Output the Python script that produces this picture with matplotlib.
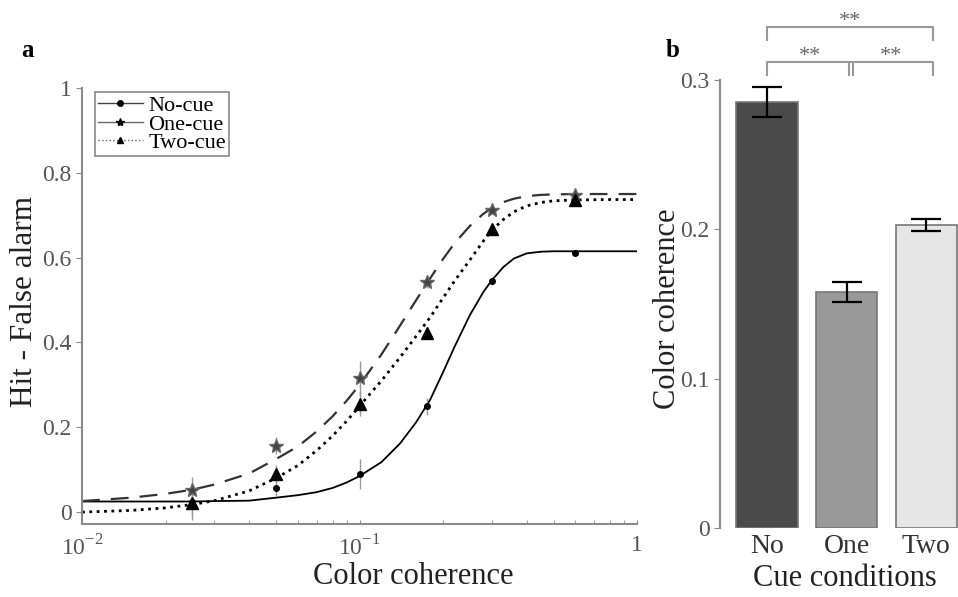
import matplotlib
matplotlib.use("Agg")
import matplotlib.pyplot as plt
from matplotlib.lines import Line2D
import numpy as np

plt.rcParams["font.family"] = ["Liberation Serif", "DejaVu Serif"]
plt.rcParams["mathtext.fontset"] = "custom"
plt.rcParams["mathtext.rm"] = "Liberation Serif"

# panel a: measured points
coherence = [0.025, 0.05, 0.1, 0.175, 0.3, 0.6]
no_cue = [0.025, 0.058, 0.09, 0.25, 0.545, 0.612]
one_cue = [0.052, 0.156, 0.316, 0.543, 0.713, 0.748]
two_cue = [0.022, 0.09, 0.256, 0.422, 0.667, 0.736]
no_err = [0.03, 0.02, 0.035, 0.02, 0.01, 0.005]
one_err = [0.03, 0.02, 0.04, 0.015, 0.01, 0.01]
two_err = [0.04, 0.02, 0.03, 0.015, 0.01, 0.01]

# panel a: fitted curves
fit_x = [0.01, 0.015, 0.02, 0.025, 0.03, 0.04, 0.05, 0.06, 0.07, 0.08, 0.09, 0.1,
         0.12, 0.14, 0.16, 0.18, 0.2, 0.22, 0.25, 0.28, 0.3, 0.33, 0.36, 0.4,
         0.45, 0.5, 0.6, 0.8, 1.0]
no_fit = [0.025, 0.025, 0.025, 0.025, 0.026, 0.027, 0.034, 0.04, 0.047, 0.057, 0.07, 0.085,
          0.118, 0.162, 0.212, 0.266, 0.33, 0.39, 0.465, 0.52, 0.547, 0.578, 0.598, 0.61,
          0.614, 0.615, 0.615, 0.615, 0.615]
one_fit = [0.026, 0.034, 0.043, 0.053, 0.065, 0.091, 0.125, 0.155, 0.19, 0.226, 0.263, 0.3,
           0.372, 0.44, 0.50, 0.552, 0.597, 0.634, 0.675, 0.704, 0.717, 0.731, 0.739, 0.745,
           0.748, 0.749, 0.75, 0.75, 0.75]
two_fit = [0.0, 0.004, 0.01, 0.018, 0.027, 0.05, 0.08, 0.11, 0.145, 0.18, 0.215, 0.25,
           0.31, 0.365, 0.415, 0.46, 0.505, 0.545, 0.595, 0.64, 0.665, 0.69, 0.708, 0.722,
           0.73, 0.734, 0.736, 0.737, 0.737]

# panel b: thresholds
conditions = ["No", "One", "Two"]
threshold = [0.285, 0.158, 0.203]
threshold_err = [0.010, 0.007, 0.004]
bar_colors = ["#4a4a4a", "#999999", "#e6e6e6"]
pairs = [(0, 2), (0, 1), (1, 2)]

fig = plt.figure(figsize=(9.58, 5.97), dpi=100)
ax = fig.add_axes([0.0856, 0.1223, 0.5794, 0.7303])
bx = fig.add_axes([0.7516, 0.1156, 0.2484, 0.7504])

spine_c = "#8a8a8a"
tick_c = "#555555"

ax.plot(fit_x, no_fit, "-", color="black", lw=1.3)
ax.plot(fit_x, one_fit, color="#333333", lw=1.6, dashes=(8, 5))
ax.plot(fit_x, two_fit, ":", color="black", lw=2.0)

ax.errorbar(coherence, no_cue, yerr=no_err, fmt="o", color="black", ms=4,
            ecolor="#999999", elinewidth=1)
ax.errorbar(coherence, one_cue, yerr=one_err, fmt="*", color="#444444", ms=10,
            mec="#666666", ecolor="#999999", elinewidth=1)
ax.errorbar(coherence, two_cue, yerr=two_err, fmt="^", color="black", ms=8,
            ecolor="#999999", elinewidth=1)

ax.set_xscale("log")
ax.set_xlim(0.01, 1)
ax.set_ylim(-0.028, 1)
ax.set_xticks([0.01, 0.1, 1])
ax.set_xticklabels([r"$10^{-2}$", r"$10^{-1}$", "1"])
ax.set_yticks([0, 0.2, 0.4, 0.6, 0.8, 1])
ax.set_yticklabels(["0", "0.2", "0.4", "0.6", "0.8", "1"])
ax.tick_params(axis="x", which="both", direction="in", length=3, colors=spine_c,
               labelcolor=tick_c, labelsize=17, pad=8)
ax.tick_params(axis="y", direction="out", length=4, colors=spine_c,
               labelcolor=tick_c, labelsize=17)
for s in ["top", "right"]:
    ax.spines[s].set_visible(False)
for s in ["left", "bottom"]:
    ax.spines[s].set_color(spine_c)
    ax.spines[s].set_linewidth(1.5)
ax.set_xlabel("Color coherence", fontsize=22, color="#222222")
ax.xaxis.set_label_coords(0.596, -0.087)
ax.set_ylabel("Hit - False alarm", fontsize=22.5, color="#222222")
ax.yaxis.set_label_coords(-0.078, 0.51)

handles = [
    Line2D([], [], ls="-", color="#444444", lw=1, marker="o", ms=4, mfc="black", mec="black"),
    Line2D([], [], ls="-", color="#666666", lw=1, marker="*", ms=6, mfc="black", mec="black"),
    Line2D([], [], ls=":", color="#666666", lw=1, marker="^", ms=5, mfc="black", mec="black"),
]
leg = ax.legend(handles, ["No-cue", "One-cue", "Two-cue"], loc="upper left",
                bbox_to_anchor=(0.023, 0.99), borderaxespad=0, fontsize=16,
                fancybox=False, framealpha=1, edgecolor="#888888",
                handlelength=2.0, handletextpad=0.25, labelspacing=-0.1,
                borderpad=0.15)
leg.get_frame().set_linewidth(1.2)

bars = bx.bar(range(1, 4), threshold, width=0.77, color=bar_colors,
              edgecolor="#777777", linewidth=1.2)
bx.errorbar(range(1, 4), threshold, yerr=threshold_err, fmt="none", ecolor="black",
            elinewidth=1.6, capsize=11, capthick=1.6)
bx.set_xlim(0.41, 3.40)
bx.set_ylim(0, 0.3)
bx.set_yticks([0, 0.1, 0.2, 0.3])
bx.set_yticklabels(["0", "0.1", "0.2", "0.3"])
bx.set_xticks(range(1, 4))
bx.set_xticklabels(conditions)
bx.tick_params(axis="x", length=0, labelsize=20, labelcolor="#333333", pad=4)
bx.tick_params(axis="y", direction="out", length=4, colors=spine_c,
               labelcolor=tick_c, labelsize=17)
for s in ["top", "right", "bottom"]:
    bx.spines[s].set_visible(False)
bx.spines["left"].set_color(spine_c)
bx.spines["left"].set_linewidth(1.5)
bx.set_xlabel("Cue conditions", fontsize=22, color="#222222")
bx.xaxis.set_label_coords(0.525, -0.08)
bx.set_ylabel("Color coherence", fontsize=22, color="#222222")
bx.yaxis.set_label_coords(-0.16, 0.49)

# significance brackets above the bars
trans = bx.get_xaxis_transform()
levels = {(0, 2): (1.118, 1.089), (0, 1): (1.040, 1.011), (1, 2): (1.040, 1.011)}
for i, j in pairs:
    top, foot = levels[(i, j)]
    x0 = i + 1 + (0.03 if i == 1 else 0.0)
    x1 = j + 1 + 0.08
    bx.plot([x0, x0, x1, x1], [foot, top, top, foot], color="#999999", lw=1.5,
            transform=trans, clip_on=False)
    bx.text((x0 + x1) / 2, top - 0.008, "**", ha="center", va="bottom", fontsize=16,
            color="#666666", transform=trans)

fig.text(0.022, 0.915, "a", fontsize=18, fontweight="bold", va="center")
fig.text(0.695, 0.915, "b", fontsize=18, fontweight="bold", va="center")

fig.savefig("out.png", dpi=100)
